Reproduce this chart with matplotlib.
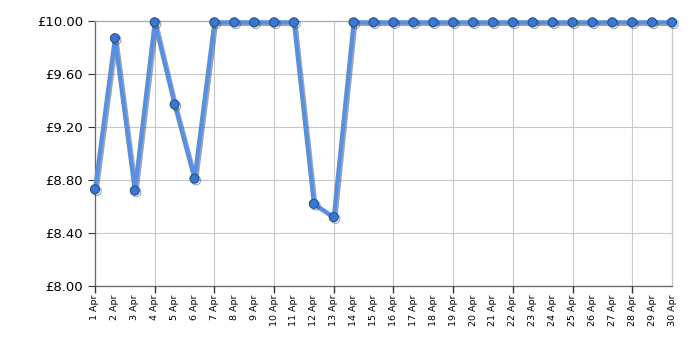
import matplotlib
matplotlib.use('Agg')
import matplotlib.pyplot as plt
import matplotlib.patheffects as pe
from matplotlib.markers import TICKDOWN

days = list(range(1, 31))
labels = ['%d Apr' % d for d in days]
prices = [8.73, 9.87, 8.72, 9.99, 9.37, 8.81, 9.99, 9.99, 9.99, 9.99,
          9.99, 8.62, 8.52, 9.99, 9.99, 9.99, 9.99, 9.99, 9.99, 9.99,
          9.99, 9.99, 9.99, 9.99, 9.99, 9.99, 9.99, 9.99, 9.99, 9.99]
yticks = [8.00, 8.40, 8.80, 9.20, 9.60, 10.00]

fig = plt.figure(figsize=(7, 3.5), dpi=100)
ax = fig.add_axes([95 / 700, 1 - 286 / 350, 577 / 700, 265 / 350])

shadow = [pe.SimpleLineShadow(offset=(1.2, -1.2), shadow_color='#333333', alpha=0.45), pe.Normal()]
ax.plot(days, prices, color='#5590e4', lw=3, zorder=3, path_effects=shadow, clip_on=False)
ax.plot(days, prices, 'o', ms=6.5, color='#3a78d0', mec='#204f96', mew=0.8, zorder=4,
        path_effects=shadow, clip_on=False)

ax.set_xlim(1, 30)
ax.set_ylim(8, 10)
ax.set_yticks(yticks)
ax.set_yticklabels(['£%.2f' % v for v in yticks], fontsize=9.5)
ax.set_xticks(days)
ax.set_xticklabels(labels, rotation=90, fontsize=6.8)
ax.tick_params(axis='x', length=0, pad=6)
ax.tick_params(axis='y', length=5, color='#333333')

for v in yticks:
    ax.axhline(v, color='#c8c8c8', lw=0.8, zorder=1)
for d in range(1, 31, 3):
    ax.axvline(d, color='#c8c8c8', lw=0.8, zorder=1)
    ax.plot([d], [8], marker=TICKDOWN, ms=5, mew=1, color='#333333', clip_on=False, zorder=5)

ax.spines['left'].set_color('#666666')
ax.spines['bottom'].set_color('#666666')
ax.spines['top'].set_color('#aaaaaa')
ax.spines['right'].set_color('#c8c8c8')
for s in ax.spines.values():
    s.set_linewidth(0.9)

fig.savefig('out.png', dpi=100)
